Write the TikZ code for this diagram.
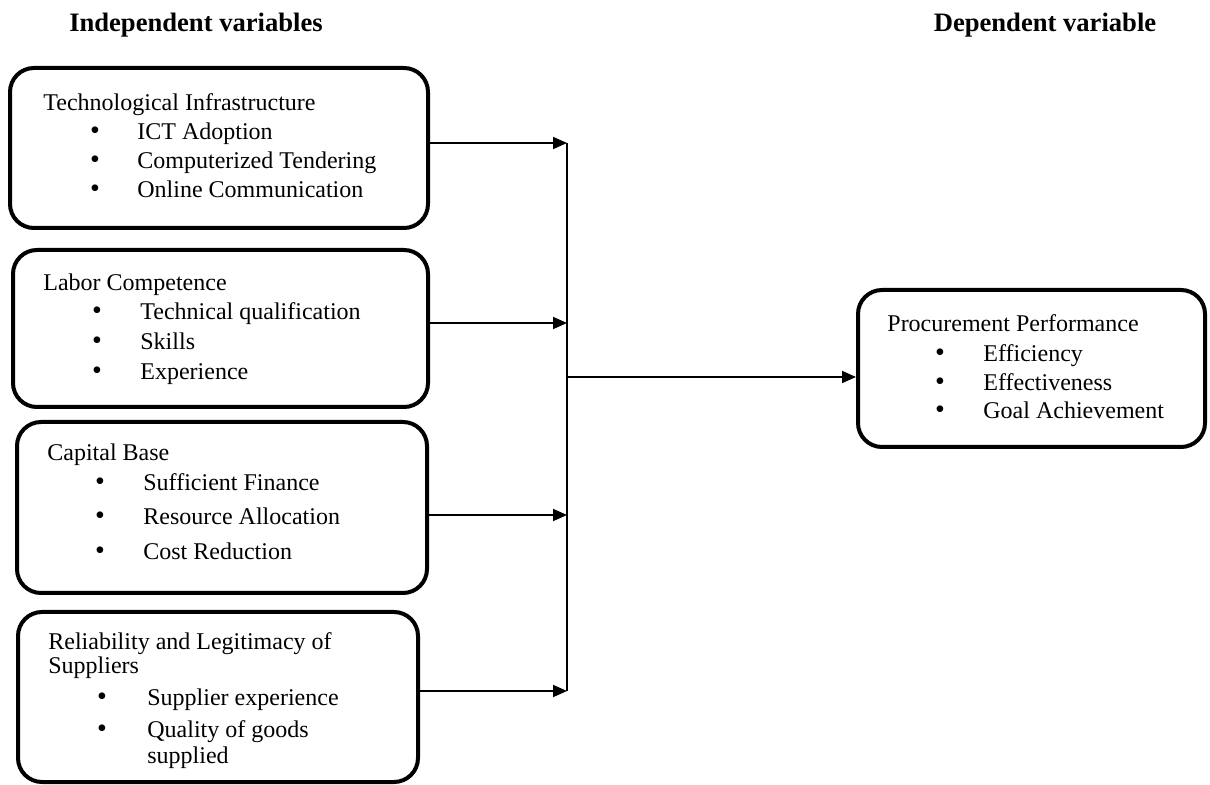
\documentclass[tikz,border=0pt]{standalone}
\usepackage{fontspec}
\setmainfont{Liberation Serif}
\usepackage{tikz}
\usetikzlibrary{arrows.meta}

\tikzset{
	box/.style={draw, line width=2pt, rounded corners=12pt, inner sep=0pt},
	arrow/.style={line width=0.9pt, -{Triangle[length=7pt,width=6pt]}},
	bus/.style={line width=0.9pt},
	head/.style={font=\fontsize{13.3}{16}\selectfont\bfseries, anchor=base},
	txt/.style={font=\fontsize{12}{14}\selectfont, anchor=base west, inner sep=0pt},
	dot/.style={font=\fontsize{14}{14}\selectfont, anchor=base, inner sep=0pt}
}

\begin{document}
\begin{tikzpicture}[x=0.5pt, y=-0.5pt]
		\useasboundingbox (0,0) rectangle (1210,785);
		% headings
		\node[head] (indep) at (196,32) {Independent variables};
		\node[head] (dep) at (1045,32) {Dependent variable};
		% boxes
		\node[box, minimum width=209pt, minimum height=80pt] (tech) at (219,148) {};
		\node[box, minimum width=207.5pt, minimum height=78.5pt] (labor) at (220.5,328.5) {};
		\node[box, minimum width=205pt, minimum height=85.5pt] (capital) at (222,507.5) {};
		\node[box, minimum width=200pt, minimum height=85pt] (supply) at (218,697) {};
		\node[box, minimum width=173.5pt, minimum height=78.5pt] (perf) at (1031.5,368.5) {};
		% box texts
		\node[txt] (tech title) at (43,111) {Technological Infrastructure};
		\node[dot] (tech b1) at (95,140) {\textbullet};
		\node[dot] (tech b2) at (95,169) {\textbullet};
		\node[dot] (tech b3) at (95,198) {\textbullet};
		\node[txt] (tech i1) at (137,140) {ICT Adoption};
		\node[txt] (tech i2) at (137,169) {Computerized Tendering};
		\node[txt] (tech i3) at (137,198) {Online Communication};

		\node[txt] (labor title) at (43,291) {Labor Competence};
		\node[dot] (labor b1) at (97,320) {\textbullet};
		\node[dot] (labor b2) at (97,350) {\textbullet};
		\node[dot] (labor b3) at (97,380) {\textbullet};
		\node[txt] (labor i1) at (140,320) {Technical qualification};
		\node[txt] (labor i2) at (140,350) {Skills};
		\node[txt] (labor i3) at (140,380) {Experience};

		\node[txt] (capital title) at (47,461) {Capital Base};
		\node[dot] (capital b1) at (100,491) {\textbullet};
		\node[dot] (capital b2) at (100,525) {\textbullet};
		\node[dot] (capital b3) at (100,560) {\textbullet};
		\node[txt] (capital i1) at (143,491) {Sufficient Finance};
		\node[txt] (capital i2) at (143,525) {Resource Allocation};
		\node[txt] (capital i3) at (143,560) {Cost Reduction};

		\node[txt] (supply title) at (48,649) {Reliability and Legitimacy of};
		\node[txt] (supply title2) at (48,673) {Suppliers};
		\node[dot] (supply b1) at (102,705) {\textbullet};
		\node[dot] (supply b2) at (102,737) {\textbullet};
		\node[txt] (supply i1) at (147,705) {Supplier experience};
		\node[txt] (supply i2) at (147,737) {Quality of goods};
		\node[txt] (supply i3) at (147,763) {supplied};

		\node[txt] (perf title) at (887,332) {Procurement Performance};
		\node[dot] (perf b1) at (940,362) {\textbullet};
		\node[dot] (perf b2) at (940,391) {\textbullet};
		\node[dot] (perf b3) at (940,419) {\textbullet};
		\node[txt] (perf i1) at (983,362) {Efficiency};
		\node[txt] (perf i2) at (983,391) {Effectiveness};
		\node[txt] (perf i3) at (983,419) {Goal Achievement};
		% connectors
		\coordinate (j1) at (567,143);
		\coordinate (j2) at (567,323);
		\coordinate (j3) at (567,515);
		\coordinate (j4) at (567,691);
		\coordinate (hub) at (567,377);
		\draw[arrow] (tech.east |- j1) -- (j1);
		\draw[arrow] (labor.east |- j2) -- (j2);
		\draw[arrow] (capital.east |- j3) -- (j3);
		\draw[arrow] (supply.east |- j4) -- (j4);
		\draw[bus] (j1) -- (j4);
		\draw[arrow] (hub) -- (perf.west |- hub);
	\end{tikzpicture}
\end{document}
